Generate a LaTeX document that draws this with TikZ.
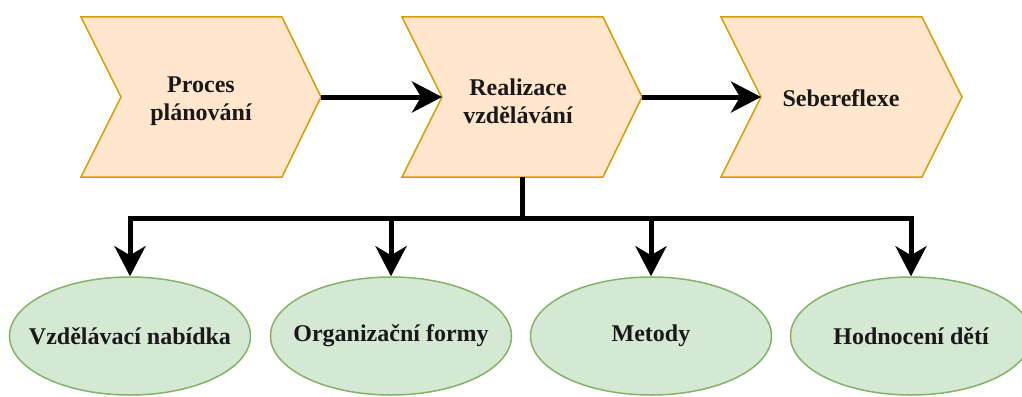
\documentclass[tikz,border=0pt]{standalone}
\usepackage{fontspec}
\setmainfont{Liberation Serif}
\usetikzlibrary{shapes.geometric,arrows.meta}
\definecolor{chevfill}{HTML}{FFE6CC}
\definecolor{chevdraw}{HTML}{D79B00}
\definecolor{ellfill}{HTML}{D5E8D4}
\definecolor{elldraw}{HTML}{82B366}
\tikzset{
  chev/.style={fill=chevfill,draw=chevdraw,line width=1.5pt,line join=miter},
  lbl/.style={font=\fontsize{24}{28}\selectfont\bfseries,align=center,text=black!90},
  oval/.style={ellipse,fill=ellfill,draw=elldraw,line width=1.5pt,minimum width=241pt,minimum height=118pt,inner sep=0pt,font=\fontsize{24}{28}\selectfont\bfseries,text=black!90},
  conn/.style={line width=5pt,-{Stealth[length=30pt,width=31pt,inset=9pt]}},
  wire/.style={line width=5pt}
}
\newcommand{\zw}[1]{\raisebox{-4pt}{\makebox[0pt][c]{#1}}}
\begin{document}
\begin{tikzpicture}[x=1pt,y=-1pt]
\useasboundingbox (0,0) rectangle (1022,396);
\clip (0,0) rectangle (1022,396);
% chevrons
\draw[chev] (81,17) -- (282,17) -- (321,97) -- (282,177) -- (81,177) -- (121,97) -- cycle;
\draw[chev] (402,17) -- (603,17) -- (642,97) -- (603,177) -- (402,177) -- (442,97) -- cycle;
\draw[chev] (721,17) -- (922,17) -- (962,97) -- (922,177) -- (721,177) -- (761,97) -- cycle;
\coordinate (c1tip) at (321,97);
\coordinate (c2notch) at (442,97);
\coordinate (c2tip) at (642,97);
\coordinate (c3notch) at (761,97);
\coordinate (c2bottom) at (522,177);
\coordinate (bus) at (522,218);
\node[lbl] (c1) at (201,101) {Proces\\plánování};
\node[lbl] (c2) at (518,101) {Realizace\\vzdělávání};
\node[lbl] (c3) at (841,98) {Sebereflexe};
% ellipses
\node[oval] (e1) at (130,336) {\zw{Vzdělávací nabídka}};
\node[oval] (e2) at (391,336) {\zw{Organizační formy}};
\node[oval] (e3) at (651,336) {\zw{Metody}};
\node[oval] (e4) at (911,336) {\zw{Hodnocení dětí}};
% connectors
\draw[conn] (c1tip) -- (c2notch);
\draw[conn] (c2tip) -- (c3notch);
\draw[wire] (c2bottom) -- (bus);
\draw[wire,line cap=rect] (bus -| e1.north) -- (bus -| e4.north);
\draw[conn] (bus -| e1.north) -- (e1.north);
\draw[conn] (bus -| e2.north) -- (e2.north);
\draw[conn] (bus -| e3.north) -- (e3.north);
\draw[conn] (bus -| e4.north) -- (e4.north);
\end{tikzpicture}
\end{document}
